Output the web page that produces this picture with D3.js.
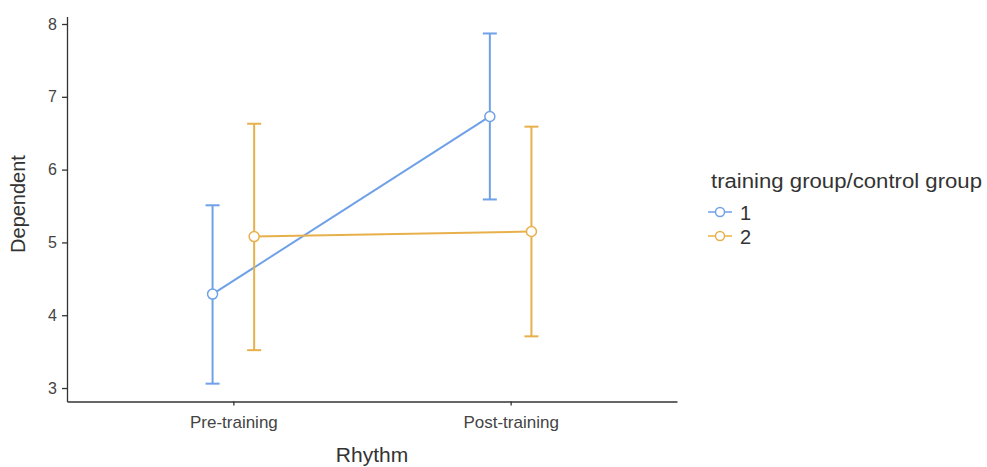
<!DOCTYPE html>
<html><head><meta charset="utf-8">
<script src="https://cdn.jsdelivr.net/npm/d3@7"></script>
<style>
body{margin:0;background:#fff;}
text{font-family:"Liberation Sans",Arial,sans-serif;}
</style></head>
<body>
<svg id="chart" width="987" height="467"></svg>
<script>
const categories = ["Pre-training", "Post-training"];
const groups = ["1", "2"];
const means1 = [4.29, 6.73];
const lower1 = [3.06, 5.59];
const upper1 = [5.51, 7.87];
const means2 = [5.08, 5.15];
const lower2 = [3.52, 3.71];
const upper2 = [6.63, 6.59];
const yTicks = [3, 4, 5, 6, 7, 8];
const colors = ["#6FA1E8", "#E8B04A"];

const series = [
  {name: groups[0], means: means1, lower: lower1, upper: upper1, color: colors[0], off: -0.075},
  {name: groups[1], means: means2, lower: lower2, upper: upper2, color: colors[1], off: 0.075}
];

const svg = d3.select("#chart");
const pLeft = 67, pRight = 677, pTop = 16.5, pBottom = 401.5;

const x = d3.scaleLinear().domain([0.4, 2.6]).range([pLeft, pRight]);
const y = d3.scaleLinear().domain([2.815, 8.103]).range([pBottom, pTop]);

// axes
const yAxis = d3.axisLeft(y).tickValues(yTicks).tickFormat(d3.format("d"))
  .tickSizeInner(5).tickSizeOuter(0).tickPadding(5);
const gy = svg.append("g").attr("transform", `translate(${pLeft},0)`).call(yAxis);
gy.select(".domain").attr("stroke", "#333").attr("stroke-width", 1.3);
gy.selectAll(".tick line").attr("stroke", "#333").attr("stroke-width", 1.3);
gy.selectAll(".tick text").attr("font-size", 16).attr("fill", "#444");

const xAxis = d3.axisBottom(x).tickValues([1, 2]).tickFormat((d, i) => categories[i])
  .tickSizeInner(4).tickSizeOuter(0).tickPadding(10);
const gx = svg.append("g").attr("transform", `translate(0,${pBottom})`).call(xAxis);
gx.select(".domain").attr("stroke", "#333").attr("stroke-width", 1.3);
gx.selectAll(".tick line").attr("stroke", "#333").attr("stroke-width", 1.3);
gx.selectAll(".tick text").attr("font-size", 17).attr("fill", "#444");

// axis titles
svg.append("text").attr("x", 372).attr("y", 462).attr("text-anchor", "middle")
  .attr("font-size", 21).attr("fill", "#333").text("Rhythm");
svg.append("text").attr("transform", `translate(25,204) rotate(-90)`)
  .attr("text-anchor", "middle").attr("font-size", 20).attr("fill", "#333").text("Dependent");

// lines, error bars, points
const capHalf = 7;
series.forEach(s => {
  const pts = categories.map((c, i) => ({xv: i + 1 + s.off, m: s.means[i], lo: s.lower[i], hi: s.upper[i]}));
  const g = svg.append("g");
  g.append("path").datum(pts)
    .attr("d", d3.line().x(d => x(d.xv)).y(d => y(d.m)))
    .attr("fill", "none").attr("stroke", s.color).attr("stroke-width", 2);
  pts.forEach(d => {
    g.append("line").attr("x1", x(d.xv)).attr("x2", x(d.xv)).attr("y1", y(d.lo)).attr("y2", y(d.hi))
      .attr("stroke", s.color).attr("stroke-width", 2);
    [d.lo, d.hi].forEach(v => {
      g.append("line").attr("x1", x(d.xv) - capHalf).attr("x2", x(d.xv) + capHalf)
        .attr("y1", y(v)).attr("y2", y(v)).attr("stroke", s.color).attr("stroke-width", 2);
    });
  });
  g.selectAll("circle").data(pts).join("circle")
    .attr("cx", d => x(d.xv)).attr("cy", d => y(d.m)).attr("r", 5)
    .attr("fill", "#fff").attr("stroke", s.color).attr("stroke-width", 1.5);
});

// legend
const lg = svg.append("g");
lg.append("text").attr("x", 711).attr("y", 188).attr("font-size", 20).attr("fill", "#333")
  .attr("textLength", 271).attr("lengthAdjust", "spacingAndGlyphs")
  .text("training group/control group");
series.forEach((s, i) => {
  const cy = 212 + i * 24;
  lg.append("line").attr("x1", 708).attr("x2", 732).attr("y1", cy).attr("y2", cy)
    .attr("stroke", s.color).attr("stroke-width", 1.5);
  lg.append("circle").attr("cx", 720).attr("cy", cy).attr("r", 4.5)
    .attr("fill", "#fff").attr("stroke", s.color).attr("stroke-width", 1.5);
  lg.append("text").attr("x", 740).attr("y", cy + 7.5).attr("font-size", 20).attr("fill", "#333").text(s.name);
});
</script>
</body></html>
